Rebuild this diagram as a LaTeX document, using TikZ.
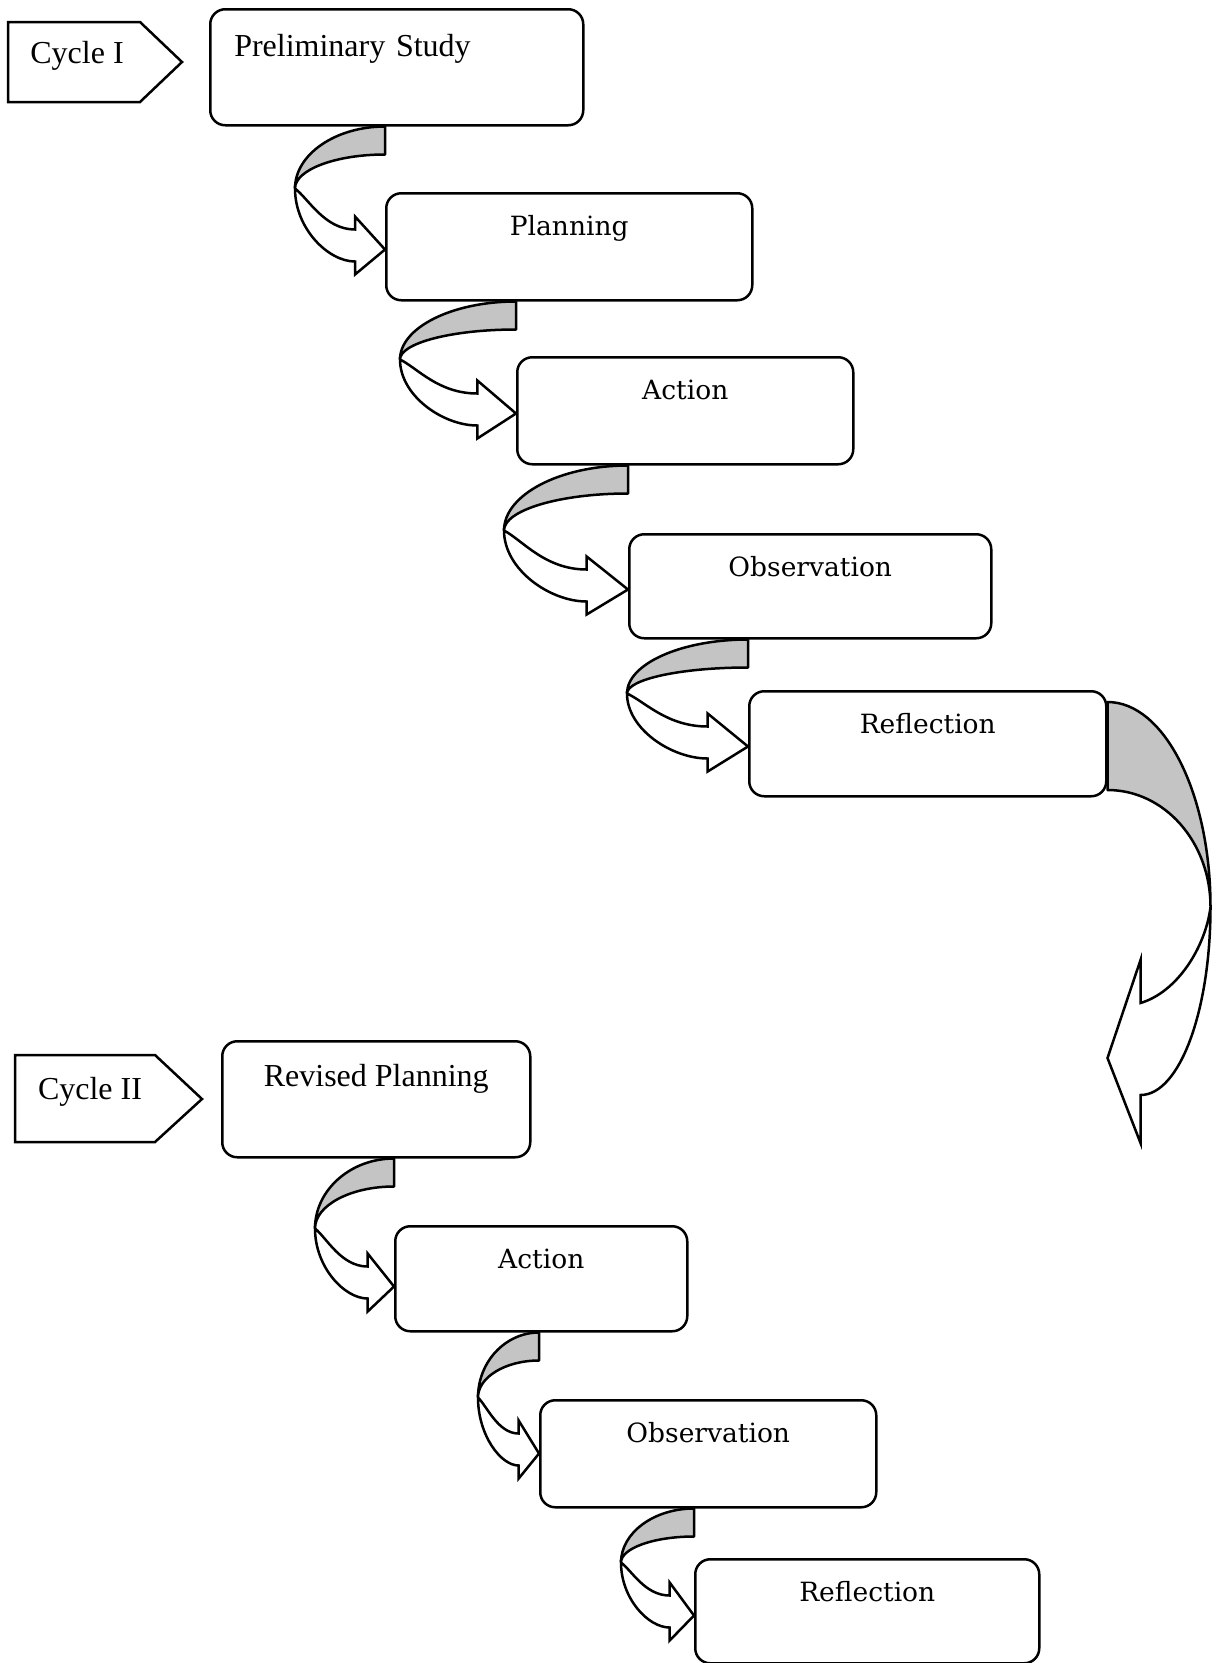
\documentclass[tikz,border=0pt]{standalone}
\usepackage{fontspec}
\setmainfont{Liberation Serif}
\newfontfamily\bookface{DejaVu Serif}
\usepackage{tikz}

% twisted ribbon arrow: start point, reach to the left, depth of turn, depth of tip
\newcommand{\twist}[4]{%
  \begin{scope}[shift={(#1)}]
    \filldraw[back] (0,0) .. controls ({-0.55*#2},0) and ({-#2},{0.45*#3}) .. ({-#2},#3)
      .. controls ({-#2},{#3-0.55*(#3-28)}) and ({-0.55*#2},28) .. (0,28) -- cycle;
    \filldraw[front] ({-#2},#3) .. controls ({-#2},{#3+0.55*(#4+12-#3)}) and ({-0.63*#2},{#4+12}) .. ({-#2/3},{#4+12})
      -- ({-#2/3},{#4+25}) -- (0,#4) -- ({-#2/3},{#4-33}) -- ({-#2/3},{#4-20})
      .. controls ({-0.67*#2},{#4-20}) and ({-0.85*#2},{#3+0.25*(#4-20-#3)}) .. ({-#2},#3) -- cycle;
  \end{scope}}

\tikzset{
  stagebox/.style={draw, line width=2.5pt, rounded corners=15pt, fill=white, inner sep=0pt,
    anchor=north west, text height=42pt, font=\bookface\fontsize{26.5}{32}\selectfont},
  timesbox/.style={stagebox, font=\fontsize{32}{38}\selectfont},
  tagline/.style={draw, line width=2.5pt, line join=miter},
  back/.style={draw, line width=2.5pt, fill=black!23, line join=round},
  front/.style={draw, line width=2.5pt, fill=white, line join=miter},
}

\begin{document}
\begin{tikzpicture}[x=1pt, y=-1pt]
\useasboundingbox (0,0) rectangle (1217,1663);
%
% cycle one
\node[timesbox, text width=325pt, inner xsep=24pt, align=left, text height=47pt, text depth=69pt] (prelim) at (209,8) {Preliminary Study};
\node[stagebox, minimum width=366pt, text depth=65pt] (plan) at (385,192) {Planning};
\node[stagebox, minimum width=336pt, text depth=65pt] (act) at (516,356) {Action};
\node[stagebox, minimum width=362pt, text depth=62pt] (obs) at (628,533) {Observation};
\node[stagebox, minimum width=357pt, text depth=63pt] (refl) at (748,690) {Reflection};
%
% cycle two
\node[timesbox, minimum width=308pt, text height=45pt, text depth=71pt] (rev) at (221,1040) {Revised Planning};
\node[stagebox, minimum width=292pt, text depth=63pt] (acttwo) at (394,1225) {Action};
\node[stagebox, minimum width=336pt, text depth=65pt] (obstwo) at (539,1399) {Observation};
\node[stagebox, minimum width=344pt, text depth=62pt] (refltwo) at (694,1558) {Reflection};
%
% tags
\node[font=\fontsize{32}{38}\selectfont, anchor=base] (cycone) at (77,63) {Cycle I};
\draw[tagline] (8,22) -- (140,22) -- (182,62) -- (140,102) -- (8,102) -- cycle;
\node[font=\fontsize{32}{38}\selectfont, anchor=base] (cyctwo) at (90,1099) {Cycle II};
\draw[tagline] (15,1055) -- (155,1055) -- (202,1099) -- (155,1142) -- (15,1142) -- cycle;
%
% arrows between the stages
\twist{prelim.south -| plan.west}{90}{62}{123}
\twist{plan.south -| act.west}{116}{58}{112}
\twist{act.south -| obs.west}{124}{65}{124}
\twist{obs.south -| refl.west}{121}{54}{107}
\twist{rev.south -| acttwo.west}{79}{70}{128}
\twist{acttwo.south -| obstwo.west}{61}{65}{121}
\twist{obstwo.south -| refltwo.west}{73}{54}{107}
%
% big arrow from cycle one to cycle two
\begin{scope}[shift={([yshift=-12pt]refl.north east)}]
\filldraw[back] (0,0) .. controls (57,0) and (103,92) .. (103,205)
  .. controls (103,140) and (57,88) .. (0,88) -- cycle;
\filldraw[front] (103,205) .. controls (103,309) and (72,393) .. (33,393)
  -- (33,441) -- (0,356) -- (33,258) -- (33,301)
  .. controls (70,290) and (98,245) .. (103,205) -- cycle;
\end{scope}
\end{tikzpicture}
\end{document}
